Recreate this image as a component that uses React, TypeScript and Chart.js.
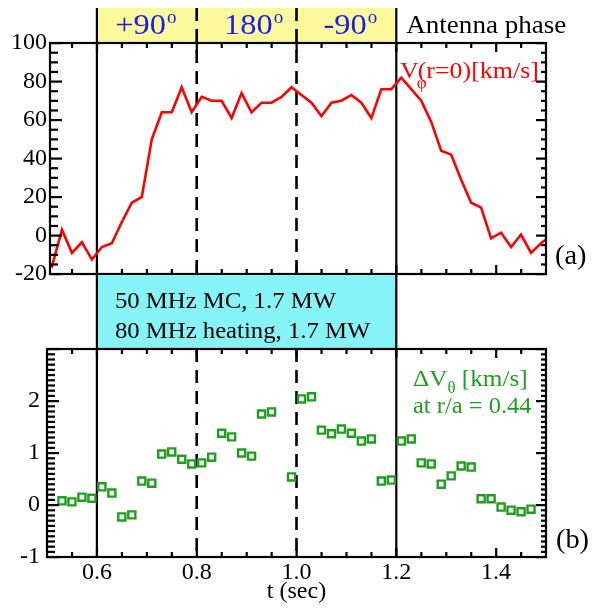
import React, { useEffect, useRef } from 'react';
import { Chart, registerables } from 'chart.js';
Chart.register(...registerables);

const FONT = "'Liberation Serif', 'Times New Roman', serif";
Chart.defaults.font.family = FONT;

// ---- Data ----
const tPhi = [0.49, 0.51, 0.53, 0.55, 0.57, 0.59, 0.61, 0.63, 0.65, 0.67, 0.69, 0.71, 0.73, 0.75, 0.77, 0.79, 0.81, 0.83, 0.85, 0.87, 0.89, 0.91, 0.93, 0.95, 0.97, 0.99, 1.01, 1.03, 1.05, 1.07, 1.09, 1.11, 1.13, 1.15, 1.17, 1.19, 1.21, 1.23, 1.25, 1.27, 1.29, 1.31, 1.33, 1.35, 1.37, 1.39, 1.41, 1.43, 1.45, 1.47, 1.49, 1.51];
const vPhi = [-11, -16, 3, -9, -3.5, -12.5, -6, -4, 7, 17, 20, 50, 64, 64, 77, 64, 72, 70, 70, 61, 74, 64, 69, 69, 72, 77, 73, 69, 62, 69, 70, 73, 69, 61, 76, 76, 82, 76, 70, 59, 44, 42, 29, 17, 14.5, -1.5, 1.5, -6, 0.5, -9, -4, 0];

const tTheta = [0.53, 0.55, 0.57, 0.59, 0.61, 0.63, 0.65, 0.67, 0.69, 0.71, 0.73, 0.75, 0.77, 0.79, 0.81, 0.83, 0.85, 0.87, 0.89, 0.91, 0.93, 0.95, 0.97, 0.99, 1.01, 1.03, 1.05, 1.07, 1.09, 1.11, 1.13, 1.15, 1.17, 1.19, 1.21, 1.23, 1.25, 1.27, 1.29, 1.31, 1.33, 1.35, 1.37, 1.39, 1.41, 1.43, 1.45, 1.47];
const dVtheta = [0.08, 0.06, 0.15, 0.13, 0.35, 0.23, -0.23, -0.19, 0.46, 0.42, 0.98, 1.02, 0.88, 0.79, 0.81, 0.92, 1.38, 1.31, 1.0, 0.94, 1.75, 1.79, null, 0.54, 2.04, 2.08, 1.44, 1.37, 1.46, 1.38, 1.23, 1.27, 0.46, 0.48, 1.23, 1.27, 0.81, 0.79, 0.4, 0.56, 0.75, 0.73, 0.12, 0.12, -0.04, -0.1, -0.13, -0.08];

const xMajorTicks = [0.6, 0.8, 1.0, 1.2, 1.4];
const yTopTicks = [-20, 0, 20, 40, 60, 80, 100];
const yBotTicks = [-1, 0, 1, 2];
const phaseBounds = [0.6, 0.8, 1.0, 1.2];
const phaseLabels = ['+90', '180', '-90'];
const rfText = ['50 MHz MC, 1.7 MW', '80 MHz heating, 1.7 MW'];

const YELLOW = '#fbf99c';
const CYAN = '#86f3f6';
const BLUE = '#1c1ce8';
const RED = '#ff0000';
const GREEN = '#1f9f1f';

function txt(ctx: CanvasRenderingContext2D, s: string, x: number, y: number, size: number, color: string, sx = 1) {
  ctx.save();
  ctx.font = `${size}px ${FONT}`;
  ctx.fillStyle = color;
  ctx.textBaseline = 'alphabetic';
  ctx.textAlign = 'left';
  ctx.translate(x, y);
  ctx.scale(sx, 1);
  ctx.fillText(s, 0, 0);
  const w = ctx.measureText(s).width * sx;
  ctx.restore();
  return w;
}

function measure(ctx: CanvasRenderingContext2D, s: string, size: number, sx = 1) {
  ctx.save();
  ctx.font = `${size}px ${FONT}`;
  const w = ctx.measureText(s).width * sx;
  ctx.restore();
  return w;
}

function drawFrame(chart: any, yMin: number, yMax: number, yMinorStep: number, yMajors: number[]) {
  const ctx: CanvasRenderingContext2D = chart.ctx;
  const a = chart.chartArea;
  const xs = chart.scales.x;
  const ys = chart.scales.y;
  ctx.save();
  ctx.fillStyle = '#000000';
  const n = Math.round((yMax - yMin) / yMinorStep);
  for (let k = 0; k <= n; k++) {
    const v = yMin + k * yMinorStep;
    const py = ys.getPixelForValue(v);
    const major = yMajors.some((m) => Math.abs(m - v) < 1e-6);
    const L = major ? 12 : 8;
    const R = major ? 10 : 5;
    ctx.fillRect(a.left, py - 1, L, 2.2);
    ctx.fillRect(a.right - R, py - 1, R, 2.2);
  }
  for (let k = 0; k <= 20; k++) {
    const v = 0.5 + k * 0.05;
    const px = xs.getPixelForValue(v);
    if (!(px > a.left + 1 && px < a.right - 1)) continue;
    const major = xMajorTicks.some((m) => Math.abs(m - v) < 1e-6);
    const L = major ? 9 : 5;
    ctx.fillRect(px - 1, a.bottom - L, 2.2, L);
    ctx.fillRect(px - 1, a.top, 2.2, L);
  }
  ctx.restore();
  ctx.save();
  ctx.strokeStyle = '#000000';
  ctx.setLineDash([]);
  ctx.lineWidth = 2.2;
  ctx.strokeRect(a.left, a.top, a.right - a.left, a.bottom - a.top);
  ctx.restore();
}

function drawPhaseLines(chart: any, solidTop: number, dashTop: number, bottom: number) {
  const { ctx, scales: { x } } = chart;
  ctx.save();
  ctx.strokeStyle = '#000';
  ctx.lineWidth = 2.2;
  [phaseBounds[0], phaseBounds[phaseBounds.length - 1]].forEach((v) => {
    const px = x.getPixelForValue(v);
    ctx.beginPath(); ctx.moveTo(px, solidTop); ctx.lineTo(px, bottom); ctx.stroke();
  });
  ctx.setLineDash([13, 8]);
  ctx.lineWidth = 2.6;
  phaseBounds.slice(1, -1).forEach((v) => {
    const px = x.getPixelForValue(v);
    ctx.beginPath(); ctx.moveTo(px, dashTop); ctx.lineTo(px, bottom); ctx.stroke();
  });
  ctx.restore();
}

const BAND_TOP = 8;

const topPlugin = {
  id: 'topDecor',
  beforeDatasetsDraw(chart: any) {
    const { ctx, chartArea: a, scales: { x } } = chart;
    const x0 = x.getPixelForValue(phaseBounds[0]);
    const x1 = x.getPixelForValue(phaseBounds[phaseBounds.length - 1]);
    ctx.save();
    ctx.fillStyle = YELLOW;
    ctx.fillRect(x0, BAND_TOP, x1 - x0, a.top - BAND_TOP);
    ctx.restore();
    drawPhaseLines(chart, BAND_TOP, BAND_TOP, a.bottom);
  },
  afterDraw(chart: any) {
    const { ctx, chartArea: a, scales: { x } } = chart;
    drawFrame(chart, -20, 100, 5, yTopTicks);
    const shifts = [-1, 7, 4];
    phaseLabels.forEach((lab, i) => {
      const c = (x.getPixelForValue(phaseBounds[i]) + x.getPixelForValue(phaseBounds[i + 1])) / 2 + shifts[i];
      const wb = measure(ctx, lab, 30, 1.08);
      const ws = measure(ctx, 'o', 19);
      const left = c - (wb + ws + 1) / 2;
      txt(ctx, lab, left, 34, 30, BLUE, 1.08);
      txt(ctx, 'o', left + wb + 1, 23, 19, BLUE);
    });
    const x1 = x.getPixelForValue(phaseBounds[phaseBounds.length - 1]);
    txt(ctx, 'Antenna phase', x1 + 10, 33, 26, '#000', 1.04);
    const vx = 400;
    const wv = txt(ctx, 'V', vx, 78, 24, RED, 1.08);
    txt(ctx, '\u03C6', vx + wv - 2, 88, 17, RED);
    txt(ctx, '(r=0)[km/s]', vx + wv - 1, 78, 24, RED, 1.08);
    txt(ctx, '(a)', a.right + 9, 264, 27, '#000', 1.05);
  },
};

const botPlugin = {
  id: 'botDecor',
  beforeDatasetsDraw(chart: any) {
    const { ctx, chartArea: a, scales: { x } } = chart;
    const x0 = x.getPixelForValue(phaseBounds[0]);
    const x1 = x.getPixelForValue(phaseBounds[phaseBounds.length - 1]);
    ctx.save();
    ctx.fillStyle = CYAN;
    ctx.fillRect(x0, 0, x1 - x0, a.top);
    ctx.restore();
    drawPhaseLines(chart, 0, a.top, a.bottom);
  },
  afterDraw(chart: any) {
    const { ctx, chartArea: a, scales: { x } } = chart;
    drawFrame(chart, -1, 3, 0.1, [...yBotTicks, 3]);
    const x0 = x.getPixelForValue(phaseBounds[0]);
    txt(ctx, rfText[0], x0 + 18, 33, 24, '#000', 1.03);
    txt(ctx, rfText[1], x0 + 18, 63, 24, '#000', 1.03);
    const gx = 413;
    const wd = txt(ctx, '\u0394V', gx, 111, 24, GREEN, 1.05);
    const wt = txt(ctx, '\u03B8', gx + wd, 118, 17, GREEN);
    txt(ctx, ' [km/s]', gx + wd + wt, 111, 24, GREEN, 1.05);
    txt(ctx, 'at r/a = 0.44', gx, 138, 24, GREEN, 1.02);
    txt(ctx, '(b)', a.right + 10, 273, 27, '#000', 1.05);
  },
};

export default function App() {
  const c1 = useRef<HTMLCanvasElement>(null);
  const c2 = useRef<HTMLCanvasElement>(null);

  useEffect(() => {
    const tickFont = { family: FONT, size: 24 };
    const ch1 = new Chart(c1.current as HTMLCanvasElement, {
      type: 'line',
      data: {
        datasets: [
          {
            data: tPhi.map((t, i) => ({ x: t, y: vPhi[i] })),
            borderColor: RED,
            borderWidth: 2.6,
            pointRadius: 0,
            tension: 0,
            fill: false,
          },
        ],
      },
      options: {
        responsive: false,
        animation: false,
        layout: { padding: { top: 43, right: 49, bottom: 18, left: 0 } },
        plugins: { legend: { display: false }, tooltip: { enabled: false } },
        scales: {
          x: { type: 'linear', min: 0.506, max: 1.5, display: false },
          y: {
            type: 'linear',
            min: -20,
            max: 100,
            afterFit: (s: any) => { s.width = 50; },
            afterBuildTicks: (s: any) => { s.ticks = yTopTicks.map((v) => ({ value: v })); },
            grid: { display: false, drawTicks: false },
            border: { display: false },
            ticks: { padding: 3, color: '#000', font: tickFont },
          },
        },
      } as any,
      plugins: [topPlugin],
    });

    const ch2 = new Chart(c2.current as HTMLCanvasElement, {
      type: 'scatter',
      data: {
        datasets: [
          {
            data: tTheta.map((t, i) => ({ x: t, y: dVtheta[i] })).filter((p) => p.y !== null),
            borderColor: GREEN,
            backgroundColor: 'rgba(0,0,0,0)',
            borderWidth: 2.4,
            pointStyle: 'rect',
            pointRadius: 5,
            showLine: false,
          },
        ],
      },
      options: {
        responsive: false,
        animation: false,
        layout: { padding: { top: 74, right: 49, bottom: 0, left: 0 } },
        plugins: { legend: { display: false }, tooltip: { enabled: false } },
        scales: {
          x: {
            type: 'linear',
            position: 'bottom',
            min: 0.5,
            max: 1.5,
            afterFit: (s: any) => { s.height = 53; },
            afterBuildTicks: (s: any) => { s.ticks = xMajorTicks.map((v) => ({ value: v })); },
            grid: { display: false, drawTicks: false },
            border: { display: false },
            ticks: { padding: 1, color: '#000', font: tickFont, maxRotation: 0, callback: (v: any) => Number(v).toFixed(1) },
            title: { display: true, text: 't (sec)', color: '#000', font: { family: FONT, size: 24 }, padding: { top: 0, bottom: 4 } },
          },
          y: {
            type: 'linear',
            min: -1,
            max: 3,
            afterFit: (s: any) => { s.width = 47; },
            afterBuildTicks: (s: any) => { s.ticks = yBotTicks.map((v) => ({ value: v })); },
            grid: { display: false, drawTicks: false },
            border: { display: false },
            ticks: { padding: 7, color: '#000', font: tickFont },
          },
        },
      } as any,
      plugins: [botPlugin],
    });

    return () => {
      ch1.destroy();
      ch2.destroy();
    };
  }, []);

  return (
    <div style={{ position: 'absolute', left: 0, top: 0, width: 595, height: 610, background: '#fff' }}>
      <canvas ref={c1} width={595} height={292} style={{ position: 'absolute', left: 0, top: 0 }} />
      <canvas ref={c2} width={595} height={335} style={{ position: 'absolute', left: 0, top: 275 }} />
    </div>
  );
}
